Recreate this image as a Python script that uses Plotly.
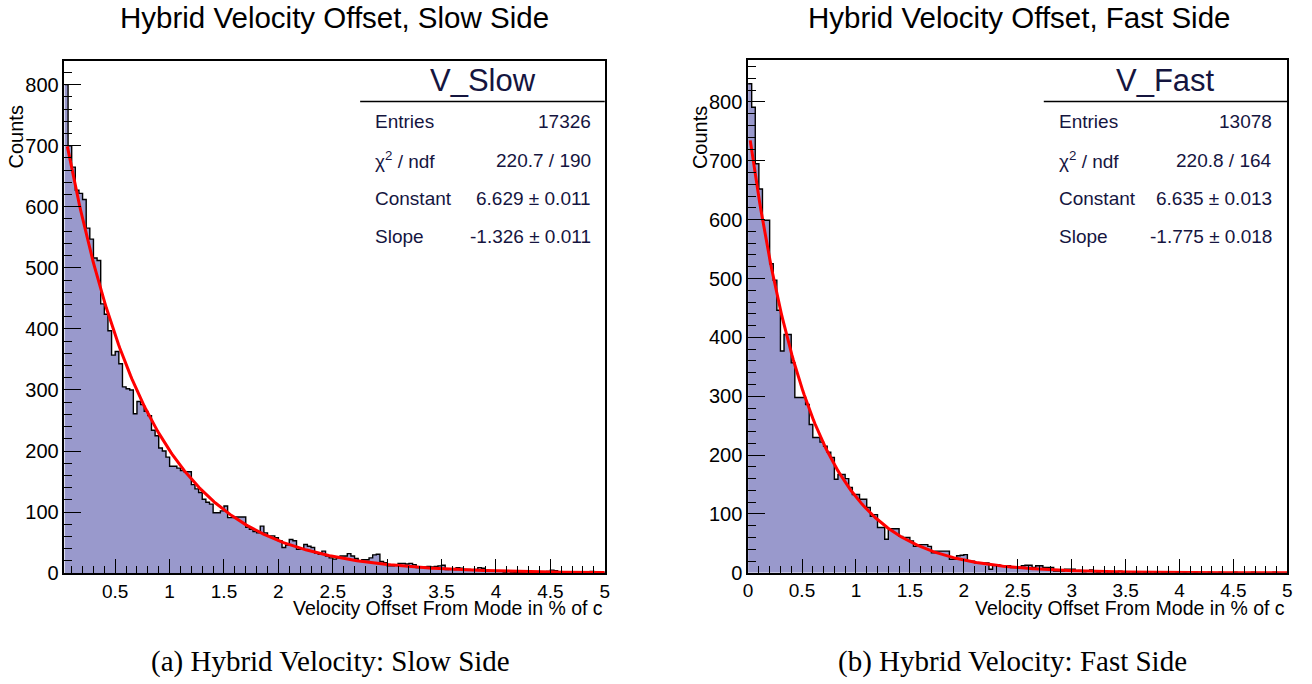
import numpy as np
import plotly.graph_objects as go

W, H = 1312, 684
BIN_W = 1.0 / 30.0

# ---- histogram contents (bin width 1/30, bins indexed from x = 0) ----
slow_first_bin = 1
slow_counts = [
    800, 700, 665, 627, 622, 612, 565, 547, 516, 512,
    441, 424, 397, 357, 363, 343, 305, 302, 300, 261,
    281, 276, 265, 258, 234, 225, 205, 200, 190, 175,
    175, 172, 168, 166, 166, 145, 138, 132, 121, 116,
    113, 99, 99, 102, 110, 91, 91, 92, 92, 92,
    75, 72, 68, 66, 77, 66, 61, 61, 58, 53,
    42, 46, 55, 53, 39, 40, 47, 44, 42, 33,
    31, 36, 28, 25, 23, 25, 28, 28, 32, 28,
    24, 20, 22, 22, 25, 30, 31, 19, 17, 12,
    12, 13, 16, 16, 15, 16, 14, 9, 10, 10,
    11, 10, 11, 12, 13, 6, 7, 6, 9, 8,
    6, 6, 5, 6, 9, 8, 5, 4, 4, 3,
    3, 2, 3, 2, 1, 2, 2, 3, 2, 2,
    1, 2, 2, 3, 5, 4, 2, 1, 2, 1,
    2, 1, 2, 1, 2, 3, 1, 2, 1,
]

fast_first_bin = 0
fast_counts = [
    831, 791, 695, 652, 599, 599, 525, 497, 446, 377,
    405, 405, 357, 298, 298, 298, 286, 252, 230, 230,
    222, 215, 205, 196, 159, 167, 167, 160, 145, 133,
    133, 125, 125, 111, 96, 99, 77, 77, 57, 75,
    75, 75, 62, 60, 60, 54, 45, 48, 48, 48,
    45, 34, 37, 37, 37, 37, 23, 23, 29, 30,
    31, 20, 20, 17, 17, 17, 17, 6, 14, 14,
    12, 12, 12, 9, 9, 9, 12, 13, 13, 9,
    12, 12, 9, 9, 9, 3, 3, 3, 6, 6,
    6, 3, 4, 2, 3, 5, 2, 1, 3, 2,
    0, 2, 1, 3, 1, 0, 2, 1, 1, 0,
    1, 2, 0, 1, 0, 1, 1, 0, 0, 1,
    0, 1, 0, 0, 1, 0, 0, 0, 1, 0,
    0, 1, 0, 0, 0, 1, 0, 0, 0, 0,
    1, 0, 0, 0, 0, 0, 1, 0, 0, 0,
]

# ---- fit results (exponential: exp(Constant + Slope * x)) ----
slow_stats = {"name": "V_Slow", "entries": "17326", "chi2": "220.7 / 190",
              "const": 6.629, "const_err": 0.011, "slope": -1.326, "slope_err": 0.011}
fast_stats = {"name": "V_Fast", "entries": "13078", "chi2": "220.8 / 164",
              "const": 6.635, "const_err": 0.013, "slope": -1.775, "slope_err": 0.018}
slow_fit_start, fast_fit_start = 0.06, 0.02

x_max = 5.0

FILL = "#9999cc"
TXT = "#15153f"
SANS = "Liberation Sans, Arial, sans-serif"
SERIF = "Liberation Serif, Times New Roman, serif"


def PX(x):
    """Pixel column -> paper x (with the page's small rendering offset)."""
    return ((x - 5.7) / 0.99) / W


def PY(y):
    """Pixel row -> paper y."""
    return 1 - ((y - 0.3) / 0.9845) / H


def step_xy(first_bin, counts):
    xs = [(first_bin + i) * BIN_W for i in range(len(counts) + 1)]
    ys = list(counts) + [counts[-1]]
    return xs, ys


fig = go.Figure()

panels = [
    dict(counts=slow_counts, first=slow_first_bin, stats=slow_stats, fit0=slow_fit_start,
         xa="x", ya="y", px=(65, 604), py=(61, 573.8), ymax=839.3, xmin=1.0 / 30.0,
         title="Hybrid Velocity Offset, Slow Side", title_x=334.5,
         caption="(a) Hybrid Velocity: Slow Side", cap_x=330,
         box_left=360, lab_x=373, val_x=592, head_x=482.7),
    dict(counts=fast_counts, first=fast_first_bin, stats=fast_stats, fit0=fast_fit_start,
         xa="x2", ya="y2", px=(747, 1285), py=(60, 573.5), ymax=871.8, xmin=0.0,
         title="Hybrid Velocity Offset, Fast Side", title_x=1017,
         caption="(b) Hybrid Velocity: Fast Side", cap_x=1011,
         box_left=1042, lab_x=1055, val_x=1272, head_x=1163),
]

annotations = []
shapes = []
layout_axes = {}


def ann(text, x, y, size, xanchor="center", color="black", family=SANS, angle=0):
    annotations.append(dict(
        text=text, x=PX(x), y=PY(y), xref="paper", yref="paper",
        xanchor=xanchor, yanchor="middle", showarrow=False, textangle=angle,
        font=dict(family=family, size=size, color=color)))


for i, p in enumerate(panels):
    xs, ys = step_xy(p["first"], p["counts"])
    fig.add_trace(go.Scatter(
        x=xs, y=ys, mode="lines", line=dict(shape="hv", color="black", width=1.4),
        fill="tozeroy", fillcolor=FILL, xaxis=p["xa"], yaxis=p["ya"],
        showlegend=False, hoverinfo="skip"))
    st = p["stats"]
    fx = np.linspace(p["fit0"], x_max, 400)
    fig.add_trace(go.Scatter(
        x=fx, y=np.exp(st["const"] + st["slope"] * fx), mode="lines",
        line=dict(color="#ff0000", width=3), xaxis=p["xa"], yaxis=p["ya"],
        showlegend=False, hoverinfo="skip"))

    suffix = "" if i == 0 else str(i + 1)
    common = dict(showgrid=False, zeroline=False, showline=True, linecolor="black",
                  linewidth=1.5, mirror=True, ticks="inside", tickcolor="black",
                  tickwidth=1.4)
    layout_axes["xaxis" + suffix] = dict(
        common, domain=[PX(p["px"][0]), PX(p["px"][1])], range=[p["xmin"], x_max],
        anchor="y" + suffix, tick0=0, dtick=0.5, ticklen=14,
        tickfont=dict(family=SANS, size=19, color="black"),
        minor=dict(ticks="inside", tick0=0, dtick=0.1, ticklen=7, tickwidth=1.4,
                   tickcolor="black"))
    layout_axes["yaxis" + suffix] = dict(
        common, domain=[PY(p["py"][1]), PY(p["py"][0])], range=[0, p["ymax"]],
        anchor="x" + suffix, tick0=0, dtick=100, ticklen=17,
        tickfont=dict(family=SANS, size=20, color="black"),
        minor=dict(ticks="inside", tick0=0, dtick=20, ticklen=8, tickwidth=1.4,
                   tickcolor="black"))

    ann(p["title"], p["title_x"], 18, 29.5)
    ann(p["caption"], p["cap_x"], 662, 29, family=SERIF)
    ann("Counts", p["px"][0] - 48, 137.5, 20, angle=-90)
    ann("Velocity Offset From Mode in % of c", p["px"][1], 609, 19.5, xanchor="right")

    # statistics box
    ann(st["name"], p["head_x"], 81, 31, color=TXT)
    shapes.append(dict(type="line", xref="paper", yref="paper",
                       x0=PX(p["box_left"]), x1=PX(p["px"][1]),
                       y0=PY(101.8), y1=PY(101.8),
                       line=dict(color="black", width=1.5)))
    rows = [
        ("Entries", st["entries"]),
        ("χ<sup>2</sup> / ndf", st["chi2"]),
        ("Constant", f"{st['const']:.3f} ± {st['const_err']:.3f}"),
        ("Slope", f"{st['slope']:.3f} ± {st['slope_err']:.3f}"),
    ]
    for (lab, val), ry in zip(rows, [122, 160.5, 199, 237]):
        ann(lab, p["lab_x"], ry, 19, xanchor="left", color=TXT)
        ann(val, p["val_x"], ry, 19, xanchor="right", color=TXT)

fig.update_layout(
    width=W, height=H, autosize=False,
    margin=dict(l=0, r=0, t=0, b=0),
    paper_bgcolor="white", plot_bgcolor="white",
    annotations=annotations, shapes=shapes,
    **layout_axes,
)

fig.write_html("out.html")
